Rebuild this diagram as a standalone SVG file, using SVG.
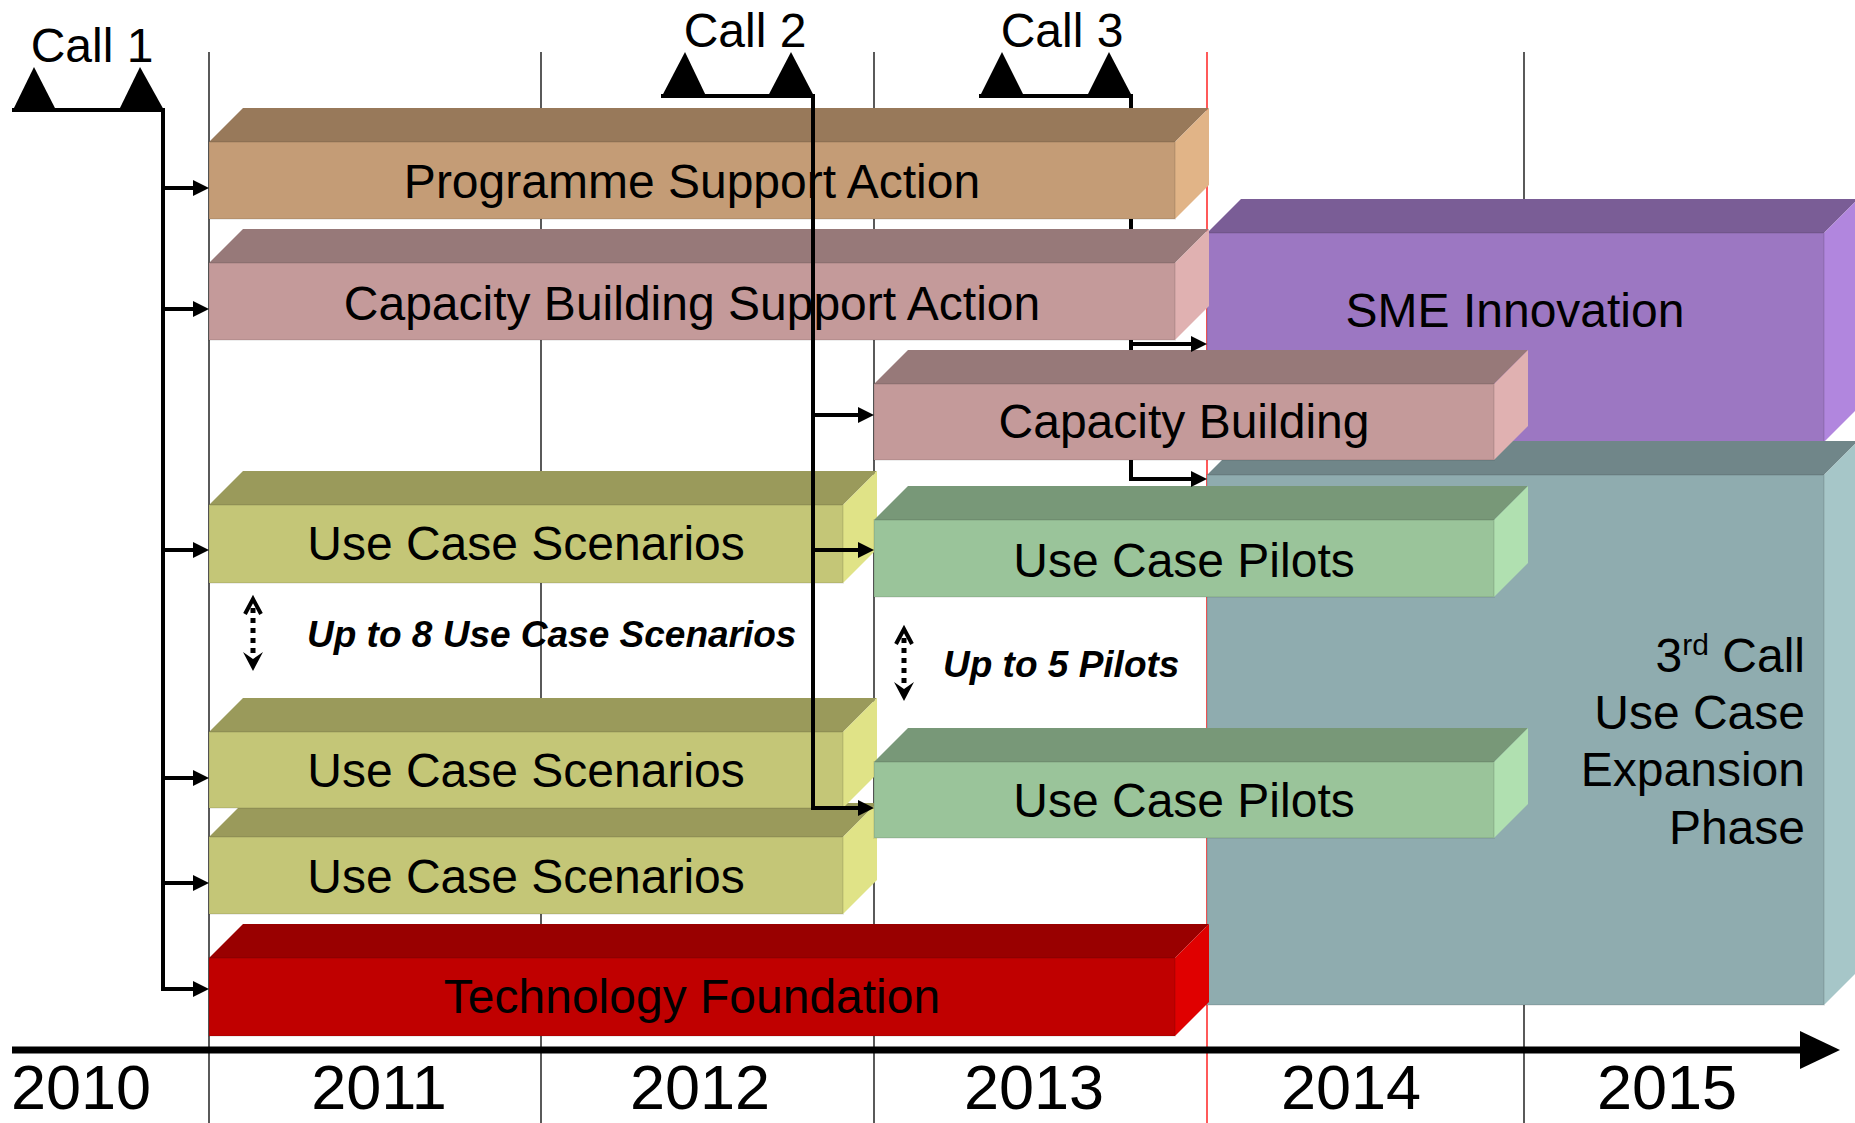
<svg xmlns="http://www.w3.org/2000/svg" width="1855" height="1123" viewBox="0 0 1855 1123">
<defs>
<style>
.t{font-family:"Liberation Sans",Arial,Helvetica,sans-serif;font-size:48px;fill:#000;text-anchor:middle}
.note{font-family:"Liberation Sans",Arial,Helvetica,sans-serif;font-size:37px;font-weight:bold;font-style:italic;fill:#000}
.yr{font-size:63px}
.grid{stroke:#000;stroke-width:1.3;fill:none}
.red{stroke:#FF0000}
.link{fill:none;stroke:#000;stroke-width:4;stroke-linejoin:miter}
.tri{fill:#000}
.fr{stroke:#000;stroke-opacity:0.07;stroke-width:2}
.tan .tp{fill:#98795A}.tan .fr{fill:#C49C76}.tan .sd{fill:#E1B487}
.pink .tp{fill:#977979}.pink .fr{fill:#C49A9A}.pink .sd{fill:#E0B1B1}
.purple .tp{fill:#7A5D96}.purple .fr{fill:#9C77C2}.purple .sd{fill:#B186DE}
.teal .tp{fill:#708689}.teal .fr{fill:#8FACAF}.teal .sd{fill:#A6C6C8}
.olive .tp{fill:#9A9A5B}.olive .fr{fill:#C4C677}.olive .sd{fill:#E0E387}
.green .tp{fill:#789878}.green .fr{fill:#9AC49A}.green .sd{fill:#B0E0B0}
.redbar .tp{fill:#990000}.redbar .fr{fill:#C00000}.redbar .sd{fill:#E00000}
.dots{stroke:#000;stroke-width:5;stroke-dasharray:5 5;fill:none}
.chev{stroke:#000;stroke-width:4;fill:none;stroke-linejoin:miter}
</style>
<marker id="ah" markerUnits="userSpaceOnUse" markerWidth="16" markerHeight="16" refX="12" refY="8" orient="auto">
<path d="M0,0 L16,8 L0,16 z" fill="#000"/>
</marker>
</defs>
<rect width="1855" height="1123" fill="#fff"/>

<g id="grid">
<line class="grid" x1="209" y1="52" x2="209" y2="1123"/>
<line class="grid" x1="541" y1="52" x2="541" y2="1123"/>
<line class="grid" x1="874" y1="52" x2="874" y2="1123"/>
<line class="grid red" x1="1207" y1="52" x2="1207" y2="1123"/>
<line class="grid" x1="1524" y1="52" x2="1524" y2="1123"/>
</g>

<g id="sme-innovation" class="purple">
<polygon class="tp" points="1207,233 1241,199 1858,199 1824,233"/>
<polygon class="sd" points="1824,233 1858,199 1858,408 1824,442"/>
<rect class="fr" x="1207" y="233" width="617" height="209"/>
<text class="t" x="1515" y="327">SME Innovation</text>
</g>

<g id="third-call" class="teal">
<polygon class="tp" points="1207,475 1241,441 1858,441 1824,475"/>
<polygon class="sd" points="1824,475 1858,441 1858,971 1824,1005"/>
<rect class="fr" x="1207" y="475" width="617" height="530"/>
<text class="t" style="text-anchor:end"><tspan x="1805" y="672">3</tspan><tspan font-size="30" dy="-17">rd</tspan><tspan dy="17"> Call</tspan><tspan x="1805" y="729">Use Case</tspan><tspan x="1805" y="786">Expansion</tspan><tspan x="1805" y="844">Phase</tspan></text>
</g>

<g id="programme-support-action" class="tan">
<polygon class="tp" points="209,142 243,108 1209,108 1175,142"/>
<polygon class="sd" points="1175,142 1209,108 1209,185 1175,219"/>
<rect class="fr" x="209" y="142" width="966" height="77"/>
<text class="t" x="692" y="198">Programme Support Action</text>
</g>

<g id="capacity-building-support-action" class="pink">
<polygon class="tp" points="209,263 243,229 1209,229 1175,263"/>
<polygon class="sd" points="1175,263 1209,229 1209,306 1175,340"/>
<rect class="fr" x="209" y="263" width="966" height="77"/>
<text class="t" x="692" y="320">Capacity Building Support Action</text>
</g>

<g id="capacity-building" class="pink">
<polygon class="tp" points="874,384 908,350 1528,350 1494,384"/>
<polygon class="sd" points="1494,384 1528,350 1528,426 1494,460"/>
<rect class="fr" x="874" y="384" width="620" height="76"/>
<text class="t" x="1184" y="438">Capacity Building</text>
</g>

<g id="use-case-scenarios-3" class="olive">
<polygon class="tp" points="209,837 243,803 877,803 843,837"/>
<polygon class="sd" points="843,837 877,803 877,880 843,914"/>
<rect class="fr" x="209" y="837" width="634" height="77"/>
<text class="t" x="526" y="893">Use Case Scenarios</text>
</g>

<g id="use-case-scenarios-2" class="olive">
<polygon class="tp" points="209,732 243,698 877,698 843,732"/>
<polygon class="sd" points="843,732 877,698 877,774 843,808"/>
<rect class="fr" x="209" y="732" width="634" height="76"/>
<text class="t" x="526" y="787">Use Case Scenarios</text>
</g>

<g id="use-case-scenarios-1" class="olive">
<polygon class="tp" points="209,505 243,471 877,471 843,505"/>
<polygon class="sd" points="843,505 877,471 877,549 843,583"/>
<rect class="fr" x="209" y="505" width="634" height="78"/>
<text class="t" x="526" y="560">Use Case Scenarios</text>
</g>

<g id="use-case-pilots-1" class="green">
<polygon class="tp" points="874,520 908,486 1528,486 1494,520"/>
<polygon class="sd" points="1494,520 1528,486 1528,563 1494,597"/>
<rect class="fr" x="874" y="520" width="620" height="77"/>
<text class="t" x="1184" y="577">Use Case Pilots</text>
</g>

<g id="use-case-pilots-2" class="green">
<polygon class="tp" points="874,762 908,728 1528,728 1494,762"/>
<polygon class="sd" points="1494,762 1528,728 1528,804 1494,838"/>
<rect class="fr" x="874" y="762" width="620" height="76"/>
<text class="t" x="1184" y="817">Use Case Pilots</text>
</g>

<g id="technology-foundation" class="redbar">
<polygon class="tp" points="209,958 243,924 1209,924 1175,958"/>
<polygon class="sd" points="1175,958 1209,924 1209,1002 1175,1036"/>
<rect class="fr" x="209" y="958" width="966" height="78"/>
<text class="t" x="692" y="1013">Technology Foundation</text>
</g>

<g id="note-scenarios">
<line class="dots" x1="253" y1="608" x2="253" y2="658"/>
<polyline class="chev" points="245,614 253,599 261,614"/>
<polygon points="243,652 253,671 263,652 253,659" fill="#000"/>
<text class="note" x="307" y="647">Up to 8 Use Case Scenarios</text>
</g>

<g id="note-pilots">
<line class="dots" x1="904" y1="638" x2="904" y2="688"/>
<polyline class="chev" points="896,644 904,629 912,644"/>
<polygon points="894,682 904,701 914,682 904,689" fill="#000"/>
<text class="note" x="943" y="677">Up to 5 Pilots</text>
</g>

<g id="calls">
<text class="t" x="92" y="62">Call 1</text>
<text class="t" x="745" y="47">Call 2</text>
<text class="t" x="1062" y="47">Call 3</text>
<polygon class="tri" points="12,112 34,67 57,112"/>
<polygon class="tri" points="118,112 140,67 165,112"/>
<polygon class="tri" points="661,98 685,52 707,98"/>
<polygon class="tri" points="767,98 791,52 815,98"/>
<polygon class="tri" points="979,98 1002,52 1025,98"/>
<polygon class="tri" points="1086,98 1109,52 1133,98"/>
</g>

<g id="connectors">
<path class="link" d="M12 110 H163 V989 H205" marker-end="url(#ah)"/>
<path class="link" d="M163 188 H205" marker-end="url(#ah)"/>
<path class="link" d="M163 309 H205" marker-end="url(#ah)"/>
<path class="link" d="M163 550 H205" marker-end="url(#ah)"/>
<path class="link" d="M163 778 H205" marker-end="url(#ah)"/>
<path class="link" d="M163 883 H205" marker-end="url(#ah)"/>
<path class="link" d="M661 96 H813 V808 H870" marker-end="url(#ah)"/>
<path class="link" d="M813 415 H870" marker-end="url(#ah)"/>
<path class="link" d="M813 550 H870" marker-end="url(#ah)"/>
<path class="link" d="M979 96 H1131 V108 M1131 219 V229 M1131 340 V350 M1131 460 V479 H1203" marker-end="url(#ah)"/>
<path class="link" d="M1131 344 H1203" marker-end="url(#ah)"/>
</g>

<g id="timeline">
<line x1="12" y1="1050" x2="1802" y2="1050" stroke="#000" stroke-width="7"/>
<polygon points="1800,1031 1840,1050 1800,1069" fill="#000"/>
<text class="t yr" x="81" y="1109">2010</text>
<text class="t yr" x="379" y="1109">2011</text>
<text class="t yr" x="700" y="1109">2012</text>
<text class="t yr" x="1034" y="1109">2013</text>
<text class="t yr" x="1351" y="1109">2014</text>
<text class="t yr" x="1667" y="1109">2015</text>
</g>
</svg>
